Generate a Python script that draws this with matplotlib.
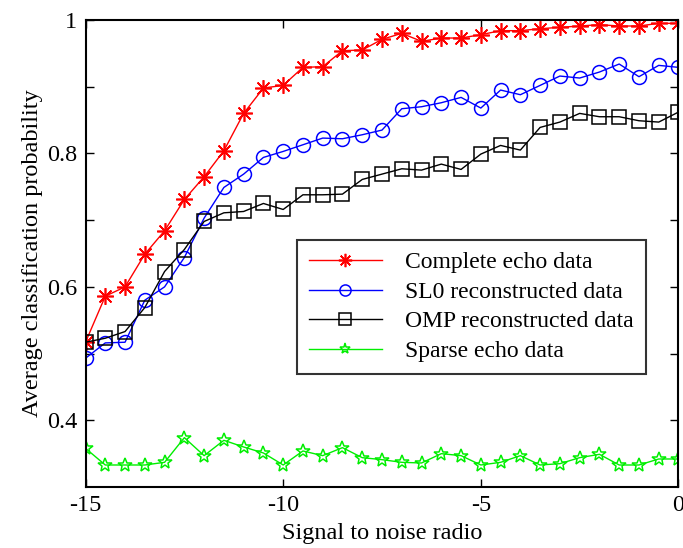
import matplotlib
matplotlib.use("Agg")
import matplotlib.pyplot as plt
import numpy as np

plt.rcParams['font.family'] = ['Liberation Serif', 'DejaVu Serif']
plt.rcParams['mathtext.fontset'] = 'stix'

# 信噪比 -15 ~ 0, 步长 0.5
snr = np.arange(-15, 0.01, 0.5)

complete_echo = [0.517, 0.586, 0.600, 0.649, 0.684, 0.731, 0.765, 0.804, 0.860, 0.898,
                 0.902, 0.929, 0.930, 0.954, 0.955, 0.971, 0.980, 0.968, 0.973, 0.973,
                 0.978, 0.984, 0.984, 0.987, 0.989, 0.991, 0.993, 0.991, 0.991, 0.995, 0.995]
sl0_recon = [0.493, 0.516, 0.517, 0.580, 0.600, 0.644, 0.703, 0.749, 0.769, 0.794,
             0.803, 0.813, 0.823, 0.822, 0.828, 0.835, 0.867, 0.870, 0.876, 0.884,
             0.868, 0.895, 0.888, 0.902, 0.916, 0.913, 0.922, 0.934, 0.915, 0.932, 0.929]
omp_recon = [0.517, 0.523, 0.533, 0.569, 0.623, 0.656, 0.698, 0.711, 0.713, 0.725,
             0.716, 0.738, 0.738, 0.739, 0.761, 0.769, 0.777, 0.775, 0.784, 0.776,
             0.799, 0.812, 0.805, 0.839, 0.847, 0.860, 0.855, 0.855, 0.849, 0.847, 0.862]
sparse_echo = [0.358, 0.333, 0.333, 0.333, 0.337, 0.374, 0.347, 0.370, 0.360, 0.351,
               0.333, 0.354, 0.347, 0.359, 0.344, 0.341, 0.337, 0.336, 0.350, 0.347,
               0.333, 0.337, 0.347, 0.333, 0.335, 0.344, 0.349, 0.333, 0.333, 0.342, 0.342]

labels = ['Complete echo data', 'SL0 reconstructed data',
          'OMP reconstructed data', 'Sparse echo data']

fig = plt.figure(figsize=(6.83, 5.48), dpi=100)
ax = fig.add_axes([0.1252, 0.1113, 0.9934 - 0.1252, 0.9635 - 0.1113])

ax.plot(snr, complete_echo, color='red', lw=1.0, marker=(8, 2, 0), ms=12,
        mew=1.2, label=labels[0])
ax.plot(snr, sl0_recon, color='blue', lw=1.0, marker='o', ms=10,
        mfc='none', mew=1.1, label=labels[1])
ax.plot(snr, omp_recon, color='black', lw=1.0, marker='s', ms=10,
        mfc='none', mew=1.1, label=labels[2])
ax.plot(snr, sparse_echo, color='#00ee00', lw=1.0, marker='*', ms=10,
        mfc='none', mew=1.1, label=labels[3])

ax.set_xlim(-15, 0)
ax.set_ylim(0.3, 1.0)
ax.set_xticks([-15, -10, -5, 0])
ax.set_xticklabels(['-15', '-10', '-5', '0'])
ax.set_yticks([0.4, 0.6, 0.8, 1.0])
ax.set_yticklabels(['0.4', '0.6', '0.8', '1'])
ax.set_yticks([0.5, 0.7, 0.9], minor=True)
ax.tick_params(which='both', direction='in', top=True, right=True,
               labelsize=17.5, width=1.0, pad=6)
ax.tick_params(which='major', length=6)
ax.tick_params(which='minor', length=6)
for s in ax.spines.values():
    s.set_linewidth(1.5)

ax.set_xlabel('Signal to noise radio', fontsize=17.5, labelpad=5)
ax.set_ylabel('Average classification probability', fontsize=17.5, labelpad=3)

leg = ax.legend(loc='upper right', bbox_to_anchor=(0.945, 0.529), fontsize=17,
                frameon=True, fancybox=False, edgecolor='black', markerscale=0.8,
                handlelength=3.1, handletextpad=1.0, labelspacing=0.34,
                borderpad=0.5, borderaxespad=0)
leg.get_frame().set_linewidth(1.5)

fig.savefig('out.png', dpi=100)
